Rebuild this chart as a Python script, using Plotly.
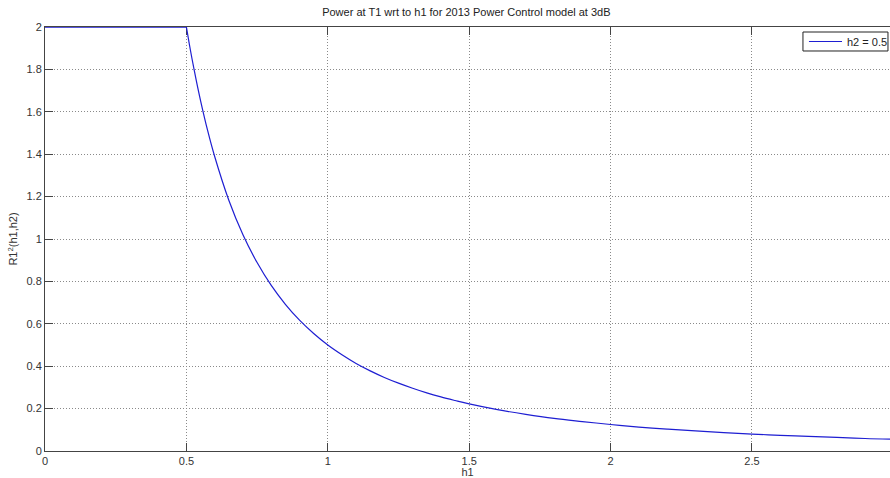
import plotly.graph_objects as go

# Saturated region: transmit power held at its cap below the threshold
flat_h1 = [0.0, 0.5]
flat_power = [2.0, 2.0]

# Decaying region of R1^2(h1, h2) for h2 = 0.5
curve_h1 = [0.5, 0.51, 0.52, 0.535, 0.55, 0.575, 0.6, 0.65, 0.7, 0.75, 0.8, 0.85,
            0.9, 0.95, 1.0, 1.05, 1.1, 1.15, 1.2, 1.25, 1.3, 1.35, 1.4, 1.45,
            1.5, 1.6, 1.7, 1.8, 1.9, 2.0, 2.1, 2.2, 2.3, 2.4, 2.5, 2.6,
            2.7, 2.8, 2.9, 3.0]
curve_power = [2.0, 1.922, 1.849, 1.747, 1.653, 1.512, 1.389, 1.183, 1.020, 0.889,
               0.781, 0.692, 0.617, 0.554, 0.500, 0.454, 0.413, 0.378, 0.347,
               0.320, 0.296, 0.274, 0.255, 0.238, 0.222, 0.195, 0.173, 0.154,
               0.139, 0.125, 0.113, 0.103, 0.095, 0.087, 0.080, 0.074, 0.069,
               0.064, 0.059, 0.056]

x_ticks = [0, 0.5, 1, 1.5, 2, 2.5]
x_tick_text = ["0", "0.5", "1", "1.5", "2", "2.5"]
y_ticks = [0, 0.2, 0.4, 0.6, 0.8, 1.0, 1.2, 1.4, 1.6, 1.8, 2.0]
y_tick_text = ["0", "0.2", "0.4", "0.6", "0.8", "1", "1.2", "1.4", "1.6", "1.8", "2"]

series_name = "h2 = 0.5"
line_color = "rgb(30,30,210)"
font_family = "Liberation Sans, Arial, sans-serif"

fig = go.Figure()
fig.add_trace(go.Scatter(
    x=flat_h1, y=flat_power, mode="lines",
    line=dict(color=line_color, width=1.4),
    showlegend=False, hoverinfo="skip", cliponaxis=False,
))
fig.add_trace(go.Scatter(
    x=curve_h1, y=curve_power, mode="lines", name=series_name,
    line=dict(color=line_color, width=1.2, shape="spline", smoothing=1.0),
    showlegend=False, cliponaxis=False,
))

axis_common = dict(
    showline=True, linecolor="#444", linewidth=1,
    ticks="inside", ticklen=8, tickcolor="#444", tickwidth=1,
    showgrid=True, gridcolor="#8a8a8a", gridwidth=1, griddash="1px,2px",
    zeroline=False, layer="below traces",
    tickfont=dict(family=font_family, size=11, color="#333"),
)

# Boxed legend in the upper-right corner, MATLAB style
legend_box = dict(x0=0.8970, x1=0.9976, y0=0.9434, y1=0.9882)
legend_line = dict(x0=0.9041, x1=0.9432, y=0.9658)
fig.add_shape(type="rect", xref="paper", yref="paper",
              x0=legend_box["x0"], x1=legend_box["x1"],
              y0=legend_box["y0"], y1=legend_box["y1"],
              line=dict(color="#222", width=1), fillcolor="white", layer="above")
fig.add_shape(type="line", xref="paper", yref="paper",
              x0=legend_line["x0"], x1=legend_line["x1"],
              y0=legend_line["y"], y1=legend_line["y"],
              line=dict(color=line_color, width=1.2), layer="above")
fig.add_annotation(xref="paper", yref="paper", x=0.9467, y=legend_line["y"],
                   xanchor="left", yanchor="middle", showarrow=False,
                   text=series_name,
                   font=dict(family=font_family, size=11, color="#222"))

fig.update_layout(
    width=890, height=478,
    margin=dict(l=45, r=0, t=27, b=27),
    paper_bgcolor="white", plot_bgcolor="white",
    font=dict(family=font_family, size=11, color="#333"),
    title=dict(
        text="Power at T1 wrt to h1 for 2013 Power Control model at 3dB",
        x=0.524, xanchor="center", y=0.975, yanchor="middle",
        font=dict(family=font_family, size=11, color="#222"),
    ),
    xaxis=dict(
        range=[0, 2.988], tickvals=x_ticks, ticktext=x_tick_text,
        mirror="ticks",
        title=dict(text="h1", standoff=4,
                   font=dict(family=font_family, size=11, color="#333")),
        **axis_common,
    ),
    yaxis=dict(
        range=[0, 2], tickvals=y_ticks, ticktext=y_tick_text,
        mirror=False,
        title=dict(text="R1<sup>2</sup>(h1,h2)", standoff=6,
                   font=dict(family=font_family, size=11, color="#333")),
        **axis_common,
    ),
    showlegend=False,
)

fig.write_html("out.html")
